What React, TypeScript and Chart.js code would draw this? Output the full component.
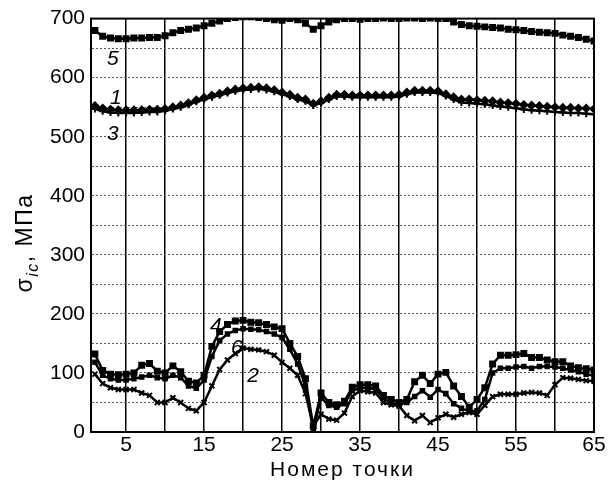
import React, { useEffect, useRef } from "react";
import { Chart, registerables } from "chart.js";

Chart.register(...registerables);

// ---------- data ----------
const POINTS = [
  1, 2, 3, 4, 5, 6, 7, 8, 9, 10, 11, 12, 13, 14, 15, 16, 17, 18, 19, 20, 21, 22,
  23, 24, 25, 26, 27, 28, 29, 30, 31, 32, 33, 34, 35, 36, 37, 38, 39, 40, 41, 42,
  43, 44, 45, 46, 47, 48, 49, 50, 51, 52, 53, 54, 55, 56, 57, 58, 59, 60, 61, 62,
  63, 64, 65,
];
const X_GRID = [5, 10, 15, 20, 25, 30, 35, 40, 45, 50, 55, 60, 65];
const X_LABELS = [5, 15, 25, 35, 45, 55, 65];
const Y_GRID = [0, 50, 100, 150, 200, 250, 300, 350, 400, 450, 500, 550, 600, 650, 700];
const Y_LABELS = [0, 100, 200, 300, 400, 500, 600, 700];

const S5 = [
  680, 670, 667, 666, 666, 667, 667, 668, 668, 671,
  676, 680, 682, 684, 688, 692, 696, 700, 702, 703,
  703, 702, 700, 698, 697, 700, 698, 692, 682, 688,
  694, 698, 700, 700, 699, 700, 700, 701, 700, 700,
  701, 701, 700, 701, 700, 700, 694, 690, 688, 687,
  686, 685, 684, 682, 681, 680, 678, 677, 676, 675,
  672, 670, 668, 665, 662,
];
const S1 = [
  552, 548, 546, 545, 545, 545, 545, 546, 546, 547,
  550, 553, 557, 562, 566, 570, 573, 577, 580, 582,
  583, 584, 582, 579, 575, 571, 566, 563, 556, 560,
  566, 571, 571, 570, 570, 570, 570, 570, 570, 571,
  575, 578, 578, 578, 577, 572, 567, 563, 563, 562,
  561, 560, 558, 557, 556, 554, 553, 552, 551, 550,
  549, 549, 548, 548, 547,
];
const S3 = [
  547, 543, 541, 540, 540, 540, 541, 542, 542, 544,
  547, 550, 554, 559, 563, 567, 570, 574, 577, 579,
  580, 581, 579, 576, 572, 568, 563, 560, 553, 557,
  563, 568, 568, 567, 567, 567, 567, 567, 567, 568,
  572, 575, 575, 575, 574, 569, 563, 558, 557, 556,
  555, 553, 551, 550, 548, 546, 545, 544, 543, 542,
  541, 540, 540, 539, 538,
];
const S4 = [
  132, 104, 98, 97, 98, 100, 113, 116, 103, 100,
  112, 102, 86, 83, 96, 145, 170, 182, 188, 189,
  186, 185, 182, 178, 175, 150, 128, 90, 10, 66,
  50, 46, 52, 76, 80, 80, 78, 62, 55, 50,
  55, 85, 96, 82, 98, 101, 78, 60, 42, 55,
  75, 115, 130, 130, 131, 133, 126, 126, 122, 119,
  119, 112, 109, 107, 105,
];
const S6 = [
  118, 96, 90, 88, 88, 90, 93, 96, 92, 90,
  96, 92, 78, 74, 88, 128, 155, 166, 172, 175,
  174, 173, 170, 166, 160, 140, 115, 78, 3, 58,
  45, 42, 48, 70, 74, 75, 72, 58, 48, 46,
  50, 60, 70, 59, 72, 65, 48, 40, 35, 36,
  55, 100, 108, 108, 110, 111, 108, 111, 111, 110,
  108, 105, 102, 98, 95,
];
const S2 = [
  98, 82, 75, 72, 72, 72, 66, 62, 50, 50,
  58, 50, 40, 36, 50, 78, 106, 122, 133, 142,
  140, 139, 136, 130, 118, 108, 96, 65, 10, 30,
  22, 20, 32, 60, 70, 68, 66, 50, 46, 44,
  28, 19, 28, 16, 24, 30, 25, 30, 33, 30,
  45, 60, 64, 64, 64, 66, 67, 66, 62, 80,
  92, 91, 89, 87, 86,
];

const SERIES_NAMES = ["5", "1", "3", "4", "6", "2"];
const NAME_X = [3.3, 3.7, 3.3, 16.5, 19.2, 21.3];
const NAME_Y = [632, 566, 504, 180, 142, 95];

const X_TITLE = "Номер точки";
const Y_TITLE_MAIN = "σ";
const Y_TITLE_SUB = "ic";
const Y_TITLE_REST = ", МПа";

const FONT = '"Liberation Sans", Arial, Helvetica, sans-serif';

const toXY = (vals: number[]) => POINTS.map((p, i) => ({ x: p, y: vals[i] }));

const overlay = {
  id: "overlay",
  afterDraw(chart: any) {
    const { ctx, chartArea, scales } = chart;
    ctx.save();
    // frame
    ctx.strokeStyle = "#000";
    ctx.lineWidth = 2;
    ctx.strokeRect(chartArea.left, chartArea.top, chartArea.right - chartArea.left, chartArea.bottom - chartArea.top);

    // series numbers
    ctx.fillStyle = "#000";
    ctx.font = `italic 21px ${FONT}`;
    ctx.textAlign = "center";
    ctx.textBaseline = "middle";
    SERIES_NAMES.forEach((n, i) => {
      ctx.fillText(n, scales.x.getPixelForValue(NAME_X[i]), scales.y.getPixelForValue(NAME_Y[i]));
    });

    // x title
    ctx.font = `21px ${FONT}`;
    ctx.textBaseline = "alphabetic";
    try { (ctx as any).letterSpacing = "2px"; } catch (e) {}
    ctx.fillText(X_TITLE, (chartArea.left + chartArea.right) / 2, 476);
    try { (ctx as any).letterSpacing = "0px"; } catch (e) {}

    // y title with subscript
    ctx.translate(25, 243);
    ctx.rotate(-Math.PI / 2);
    const mainF = `23px ${FONT}`;
    const subF = `italic 16px ${FONT}`;
    try { (ctx as any).letterSpacing = "1.5px"; } catch (e) {}
    ctx.font = mainF;
    const w1 = ctx.measureText(Y_TITLE_MAIN).width;
    const w3 = ctx.measureText(Y_TITLE_REST).width;
    ctx.font = subF;
    const w2 = ctx.measureText(Y_TITLE_SUB).width;
    const total = w1 + w2 + w3;
    let x0 = -total / 2;
    ctx.textAlign = "left";
    ctx.textBaseline = "alphabetic";
    ctx.font = mainF;
    ctx.fillText(Y_TITLE_MAIN, x0, 7);
    x0 += w1;
    ctx.font = subF;
    ctx.fillText(Y_TITLE_SUB, x0, 13);
    x0 += w2;
    ctx.font = mainF;
    ctx.fillText(Y_TITLE_REST, x0, 7);
    try { (ctx as any).letterSpacing = "0px"; } catch (e) {}
    ctx.restore();
  },
};

function makeDs(vals: number[], style: string, radius: number) {
  return {
    data: toXY(vals),
    borderColor: "#000",
    backgroundColor: "#000",
    pointBackgroundColor: "#000",
    pointBorderColor: "#000",
    borderWidth: 2.5,
    pointRadius: radius,
    pointStyle: style,
    pointBorderWidth: 2,
    tension: 0,
  };
}

export default function App() {
  const ref = useRef<HTMLCanvasElement>(null);
  useEffect(() => {
    if (!ref.current) return;
    const chart = new Chart(ref.current, {
      type: "line",
      data: {
        datasets: [
          makeDs(S5, "rect", 3.5),
          makeDs(S1, "rectRot", 3.5),
          makeDs(S3, "cross", 3.5),
          makeDs(S4, "rect", 3.5),
          makeDs(S6, "rect", 2.5),
          makeDs(S2, "crossRot", 3.5),
        ] as any,
      },
      options: {
        animation: false,
        responsive: false,
        devicePixelRatio: 1,
        layout: { padding: { left: 0, right: 20, top: 13, bottom: 0 } },
        plugins: { legend: { display: false }, tooltip: { enabled: false } },
        scales: {
          x: {
            type: "linear",
            min: 0.5,
            max: 65,
            afterBuildTicks: (s: any) => {
              s.ticks = X_GRID.map((v) => ({ value: v }));
            },
            afterFit: (s: any) => {
              s.height = 57;
            },
            ticks: {
              autoSkip: false,
              maxRotation: 0,
              padding: 1,
              color: "#000",
              font: { family: FONT, size: 21 },
              callback: (v: any) => (X_LABELS.includes(Number(v)) ? String(v) : ""),
            },
            grid: { color: "#000", lineWidth: 1.5, drawTicks: false },
            border: { display: true, color: "#000", width: 2 },
          },
          y: {
            type: "linear",
            min: 0,
            max: 700,
            afterBuildTicks: (s: any) => {
              s.ticks = Y_GRID.map((v) => ({ value: v }));
            },
            afterFit: (s: any) => {
              s.width = 91;
            },
            ticks: {
              autoSkip: false,
              padding: 6,
              color: "#000",
              font: { family: FONT, size: 21 },
              callback: (v: any) => (Y_LABELS.includes(Number(v)) ? String(v) : ""),
            },
            grid: { color: "#555", lineWidth: 1, drawTicks: false },
            border: { display: true, color: "#000", width: 2, dash: [2, 2] },
          },
        },
      } as any,
      plugins: [overlay],
    });
    return () => chart.destroy();
  }, []);
  return (
    <div style={{ position: "absolute", left: 0, top: 0, width: 614, height: 489, background: "#fff" }}>
      <canvas ref={ref} width={614} height={489} style={{ width: 614, height: 489 }} />
    </div>
  );
}
